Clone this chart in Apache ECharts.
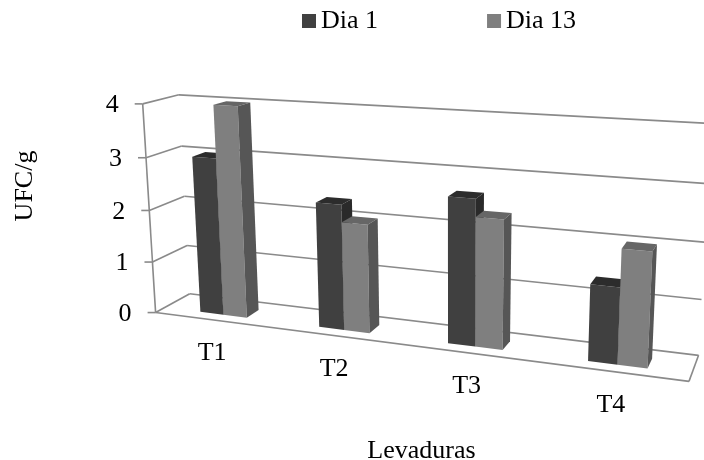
<!DOCTYPE html>
<html>
<head>
<meta charset="utf-8">
<script src="https://cdn.jsdelivr.net/npm/echarts@6/dist/echarts.min.js"></script>
<style>
  html, body { margin: 0; padding: 0; background: #fff; }
  #chart { width: 704px; height: 460px; }
</style>
</head>
<body>
<div id="chart"></div>
<script>
const categories = ['T1', 'T2', 'T3', 'T4']
const dia1 = [3.01, 2.34, 2.65, 1.35]
const dia13 = [4.0, 2.02, 2.33, 2.01]
const yTicks = [0, 1, 2, 3, 4]

const FONT = '"Liberation Serif", "Times New Roman", serif'
const LINE = '#8a8a8a'
// flat grid the axes work in, it is hidden and then projected to the 3d box
const GRID = { left: 100, top: 100, width: 400, height: 200 }
const BAR_W = 0.2      // of a category band
const BAR_SHIFT = 0.003
const DEPTH = [0.27, 0.65]

// corners of the box on the page: [u, v, w] -> [x, y]
const CORNERS = [
  [[0, 0, 0], [156, 312.3]],
  [[1, 0, 0], [689.3, 381.7]],
  [[0, 0, 1], [189.3, 294]],
  [[1, 0, 1], [698.3, 355]],
  [[0, 1, 0], [142.3, 104]],
  [[1, 1, 0], [701, 136]],
  [[0, 1, 1], [179.3, 94.7]],
  [[1, 1, 1], [711, 123.7]]
]

// least squares fit of the camera matrix to the corners
function solveCamera (pts) {
  let rows = []
  pts.forEach(([[u, v, w], [x, y]]) => {
    rows.push([u, v, w, 1, 0, 0, 0, 0, -x * u, -x * v, -x * w, x])
    rows.push([0, 0, 0, 0, u, v, w, 1, -y * u, -y * v, -y * w, y])
  })
  let n = 11
  let m = []
  for (let i = 0; i < n; i++) {
    m.push([])
    for (let j = 0; j <= n; j++) {
      m[i].push(rows.reduce((s, r) => s + r[i] * r[j], 0))
    }
  }
  for (let i = 0; i < n; i++) {
    let p = i
    for (let k = i + 1; k < n; k++) if (Math.abs(m[k][i]) > Math.abs(m[p][i])) p = k
    ;[m[i], m[p]] = [m[p], m[i]]
    for (let k = 0; k < n; k++) {
      if (k === i) continue
      let f = m[k][i] / m[i][i]
      for (let j = i; j <= n; j++) m[k][j] -= f * m[i][j]
    }
  }
  return m.map((r, i) => r[n] / r[i])
}
const C = solveCamera(CORNERS)

function project (u, v, w) {
  let d = C[8] * u + C[9] * v + C[10] * w + 1
  return [
    (C[0] * u + C[1] * v + C[2] * w + C[3]) / d,
    (C[4] * u + C[5] * v + C[6] * w + C[7]) / d
  ]
}

function toUnit (p) {
  return [(p[0] - GRID.left) / GRID.width, (GRID.top + GRID.height - p[1]) / GRID.height]
}

function poly (points, fill) {
  return { type: 'polygon', shape: { points: points }, style: { fill: fill } }
}

function seg (a, b) {
  return {
    type: 'line',
    shape: { x1: a[0], y1: a[1], x2: b[0], y2: b[1] },
    style: { stroke: LINE, lineWidth: 1.6 }
  }
}

function bar3d (offset, front, top, side) {
  return function (params, api) {
    let p = api.coord([api.value(0), api.value(1)])
    let band = api.size([1, 0])[0] / GRID.width
    let [uc, v] = toUnit(p)
    let u0 = uc + BAR_SHIFT + offset * band * BAR_W
    let u1 = u0 + band * BAR_W
    let [wf, wb] = DEPTH
    return {
      type: 'group',
      children: [
        poly([project(u0, 0, wf), project(u1, 0, wf), project(u1, v, wf), project(u0, v, wf)], front),
        poly([project(u0, v, wf), project(u1, v, wf), project(u1, v, wb), project(u0, v, wb)], top),
        poly([project(u1, 0, wf), project(u1, 0, wb), project(u1, v, wb), project(u1, v, wf)], side)
      ]
    }
  }
}

function renderFrame (params, api) {
  let v = toUnit(api.coord([0, api.value(0)]))[1]
  let a = project(0, v, 0)
  let kids = [
    seg(a, project(0, v, 1)),
    seg(project(0, v, 1), project(1, v, 1)),
    seg(a, [a[0] - 8, a[1]])
  ]
  if (v === 0) {
    kids.push(seg(a, project(1, 0, 0)), seg(project(1, 0, 0), project(1, 0, 1)))
    kids.push(seg(a, project(0, 1, 0)))
  }
  kids.push({
    type: 'text',
    style: {
      x: a[0] - 24, y: a[1] + 1.5, text: String(api.value(0)), align: 'right', verticalAlign: 'middle',
      font: '26px ' + FONT, fill: '#000'
    }
  })
  return { type: 'group', children: kids }
}

function renderCatLabel (params, api) {
  let p = api.coord([api.value(0), 0])
  let a = project(toUnit(p)[0], 0, 0)
  return {
    type: 'text',
    style: {
      x: a[0] - 1, y: a[1] + 33.5, text: categories[api.value(0)], align: 'center', verticalAlign: 'middle',
      font: '26px ' + FONT, fill: '#000'
    }
  }
}

let myChart = echarts.init(document.getElementById('chart'))
myChart.setOption({
  backgroundColor: '#fff',
  animation: false,
  grid: GRID,
  legend: {
    left: 297,
    top: 3,
    itemWidth: 14,
    itemHeight: 14,
    itemGap: 109,
    data: [
      { name: 'Dia 1', icon: 'rect' },
      { name: 'Dia 13', icon: 'rect' }
    ],
    textStyle: { fontFamily: FONT, fontSize: 26, color: '#000' }
  },
  xAxis: { type: 'category', data: categories, show: false },
  yAxis: { type: 'value', min: 0, max: 4, interval: 1, show: false },
  graphic: [
    { type: 'text', x: 25, y: 186, rotation: Math.PI / 2, style: { text: 'UFC/g', font: '26px ' + FONT, fill: '#000', align: 'center', verticalAlign: 'middle' } },
    { type: 'text', x: 421.5, y: 451, style: { text: 'Levaduras', font: '26px ' + FONT, fill: '#000', align: 'center', verticalAlign: 'middle' } }
  ],
  series: [
    {
      type: 'custom', z: 1, silent: true, clip: false,
      coordinateSystem: 'cartesian2d',
      data: yTicks.map(t => [t]),
      encode: { y: 0 },
      renderItem: renderFrame
    },
    {
      name: 'Dia 1', type: 'custom', z: 2, clip: false,
      coordinateSystem: 'cartesian2d',
      itemStyle: { color: '#404040' },
      data: dia1.map((d, i) => [i, d]),
      renderItem: bar3d(-1, '#404040', '#2c2c2c', '#2a2a2a')
    },
    {
      name: 'Dia 13', type: 'custom', z: 3, clip: false,
      coordinateSystem: 'cartesian2d',
      itemStyle: { color: '#7f7f7f' },
      data: dia13.map((d, i) => [i, d]),
      renderItem: bar3d(0, '#7f7f7f', '#666666', '#565656')
    },
    {
      type: 'custom', z: 1, silent: true, clip: false,
      coordinateSystem: 'cartesian2d',
      data: categories.map((c, i) => [i]),
      encode: { x: 0 },
      renderItem: renderCatLabel
    }
  ]
})
</script>
</body>
</html>
